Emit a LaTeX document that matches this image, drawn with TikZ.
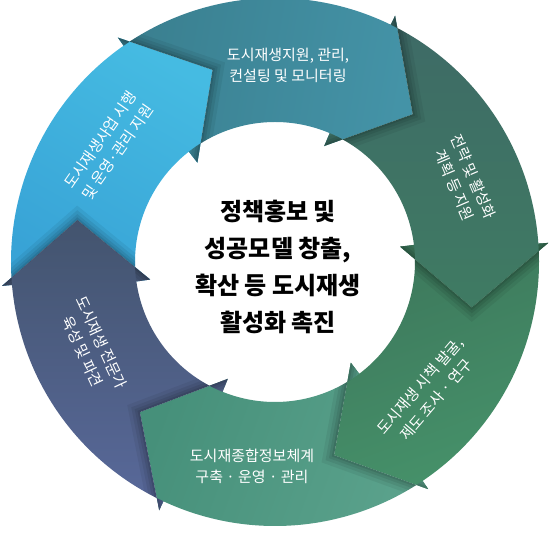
\documentclass[tikz,border=0pt]{standalone}
\usepackage{fontspec}
\setmainfont{Noto Sans CJK KR}
\definecolor{lbA}{HTML}{45BBE2}
\definecolor{lbB}{HTML}{38A3D6}
\definecolor{tlA}{HTML}{3A7F8F}
\definecolor{tlB}{HTML}{4493A7}
\definecolor{dgA}{HTML}{3E6A66}
\definecolor{dgB}{HTML}{3F7B63}
\definecolor{gnA}{HTML}{3D785C}
\definecolor{gnB}{HTML}{46926A}
\definecolor{btA}{HTML}{46907A}
\definecolor{btB}{HTML}{5BA28C}
\definecolor{slA}{HTML}{43546E}
\definecolor{slB}{HTML}{59699B}
% #1 previous tip angle, #2 own tip angle
\newcommand\segpath[2]{({#1+17}:274pt) -- ({#1+17}:264pt) arc[start angle={#1+17}, end angle={#2+17}, radius=264pt] -- ({#2+17}:274pt) -- (#2:202pt) -- ({#2+20}:126pt) -- ({#2+20}:140pt) arc[start angle={#2+20}, end angle={#1+20}, radius=140pt] -- ({#1+20}:126pt) -- (#1:202pt) -- cycle}
\newcommand\headline[1]{({#1+17}:274pt) -- (#1:202pt) -- ({#1+20}:126pt)}
\tikzset{
  segtext/.style={text=white, font=\fontsize{15}{21}\selectfont, align=center, inner sep=0pt},
  centertext/.style={text=black, font=\fontsize{24}{37}\selectfont\bfseries, align=center, inner sep=0pt},
  shadowline/.style={draw=black, line join=miter}
}
\newcommand\headshadow[3]{% #1 prev tip (of next seg), #2 tip of next seg, #3 head tip
  \begin{scope}
    \clip \segpath{#1}{#2};
    \draw[shadowline, line width=22pt, opacity=0.06] \headline{#3};
    \draw[shadowline, line width=15pt, opacity=0.07] \headline{#3};
    \draw[shadowline, line width=9pt, opacity=0.08] \headline{#3};
    \draw[shadowline, line width=4pt, opacity=0.09] \headline{#3};
  \end{scope}}
\begin{document}
\begin{tikzpicture}
\fill[white] (-275pt,-272pt) rectangle (278pt,262pt);
\useasboundingbox (-275pt,-272pt) rectangle (278pt,262pt);
% segments
\shade[top color=lbA, bottom color=lbB, shading angle=-30] \segpath{168}{108};
\shade[top color=tlB, bottom color=tlA, shading angle=-100] \segpath{108}{47};
\shade[top color=dgA, bottom color=dgB] \segpath{47}{-13};
\shade[top color=gnA, bottom color=gnB, shading angle=20] \segpath{-13}{-73};
\shade[top color=btB, bottom color=btA, shading angle=-110] \segpath{-73}{-132};
\shade[top color=slA, bottom color=slB] \segpath{-132}{-192};
% head shadows onto the next segment
\headshadow{108}{47}{108}
\headshadow{47}{-13}{47}
\headshadow{-13}{-73}{-13}
\headshadow{-73}{-132}{-73}
\headshadow{-132}{-192}{-132}
\headshadow{168}{108}{168}
% texts
\node[segtext] (t1) at (13pt,197pt) {도시재생지원, 관리,\\컨설팅 및 모니터링};
\node[segtext, rotate=-66.8] (t2) at (189pt,81pt) {전략 및 활성화\\계획 등 지원};
\node[segtext, rotate=49.4] (t3) at (153pt,-131pt) {도시재생 시책 발굴,\\제도 조사 · 연구};
\node[segtext] (t4) at (-23pt,-204pt) {도시재종합정보체계\\구축 · 운영 · 관리};
\node[segtext, rotate=-65] (t5) at (-183pt,-85pt) {도시재생 전문가\\육성 및 파견};
\node[segtext, rotate=55] (t6) at (-166pt,116pt) {도시재생사업 시행\\및 운영·관리 지원};
\node[centertext] (c) at (3pt,-5pt) {정책홍보 및\\성공모델 창출,\\확산 등 도시재생\\활성화 촉진};
\end{tikzpicture}
\end{document}
